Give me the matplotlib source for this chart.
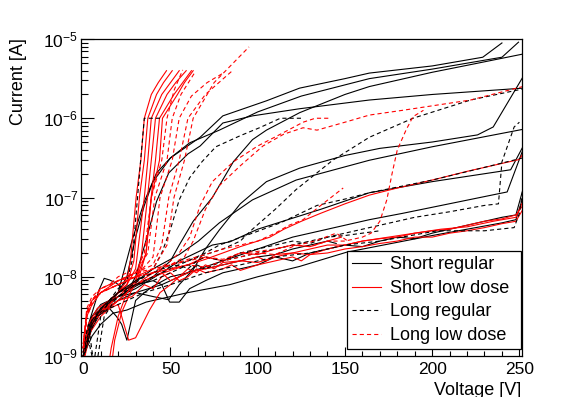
import matplotlib
matplotlib.use('Agg')
import matplotlib.pyplot as plt
from matplotlib.ticker import LogLocator, MultipleLocator, NullFormatter
from matplotlib.lines import Line2D

plt.rcParams['font.family'] = ['Liberation Sans', 'DejaVu Sans']
plt.rcParams['mathtext.fontset'] = 'custom'
plt.rcParams['mathtext.rm'] = 'Liberation Sans'
plt.rcParams['mathtext.it'] = 'Liberation Sans:italic'
plt.rcParams['lines.scale_dashes'] = False

# ---------------- data: (voltage [V], log10(current [A])) ----------------
short_regular = [
    ([0, 2, 5, 10, 15, 20, 25, 30, 35, 40, 50, 67, 80, 105, 124, 150, 164, 200, 229, 240],
     [-8.95, -8.7, -8.5, -8.4, -8.3, -8.2, -8.0, -7.5, -7.1, -6.8, -6.5, -6.24, -5.97, -5.78, -5.62, -5.5, -5.43, -5.34, -5.23, -5.05]),
    ([0, 2, 5, 10, 15, 20, 28, 35, 42, 50, 61, 78, 100, 125, 164, 200, 240, 249.5],
     [-9.0, -8.7, -8.55, -8.4, -8.3, -8.2, -7.54, -7.05, -6.69, -6.5, -6.31, -6.15, -5.92, -5.72, -5.5, -5.38, -5.23, -5.04]),
    ([0, 5, 10, 20, 30, 40, 50, 55, 63, 74, 86, 97, 105, 124, 150, 164, 200, 225, 252],
     [-8.95, -8.55, -8.42, -8.25, -8.12, -8.0, -7.8, -7.6, -7.3, -7.0, -6.55, -6.27, -6.15, -5.93, -5.7, -5.6, -5.42, -5.31, -5.19]),
    ([0, 5, 10, 20, 25, 30, 36, 42, 49, 60, 67, 80, 97, 124, 164, 200, 252],
     [-9.0, -8.6, -8.45, -8.3, -8.2, -8.0, -7.54, -7.05, -6.69, -6.45, -6.35, -6.06, -5.97, -5.88, -5.77, -5.7, -5.62]),
    ([0, 5, 10, 20, 30, 40, 49, 55, 63, 70, 78, 90, 105, 124, 150, 170, 200, 226, 235, 252],
     [-8.9, -8.5, -8.35, -8.25, -8.2, -8.25, -8.29, -8.1, -7.91, -7.65, -7.41, -7.08, -6.8, -6.63, -6.47, -6.38, -6.3, -6.21, -6.11, -5.48]),
    ([0, 5, 10, 20, 26, 40, 55, 66, 78, 97, 122, 164, 200, 252],
     [-9.0, -8.6, -8.4, -8.2, -8.13, -7.9, -7.72, -7.55, -7.32, -7.03, -6.78, -6.53, -6.36, -6.14]),
    ([0, 5, 10, 20, 30, 45, 55, 74, 84, 100, 136, 164, 200, 245, 252],
     [-9.0, -8.65, -8.45, -8.25, -8.15, -7.95, -7.8, -7.6, -7.56, -7.4, -7.15, -6.94, -6.8, -6.65, -6.36]),
    ([0, 5, 10, 20, 30, 45, 60, 80, 100, 120, 140, 164, 183, 243, 252],
     [-9.0, -8.6, -8.45, -8.3, -8.2, -8.1, -7.95, -7.8, -7.65, -7.5, -7.4, -7.28, -7.2, -6.93, -6.4]),
    ([0, 5, 10, 17, 25, 36, 60, 84, 100, 124, 151, 200, 240, 248, 252],
     [-9.0, -8.75, -8.6, -8.46, -8.42, -8.32, -8.2, -8.1, -8.0, -7.87, -7.69, -7.48, -7.32, -7.28, -7.0]),
    ([0, 3, 9, 12, 15, 19, 25, 30, 40, 45, 49.5, 55, 61, 70, 80, 90, 100, 110, 120, 130, 140, 150, 160, 170, 180, 190, 200, 210, 220, 230, 240, 248, 252],
     [-8.9, -8.6, -8.17, -8.02, -8.04, -8.08, -8.2, -8.1, -8.05, -8.1, -8.32, -8.32, -8.15, -8.05, -7.95, -7.9, -7.85, -7.75, -7.8, -7.7, -7.65, -7.6, -7.62, -7.55, -7.5, -7.52, -7.45, -7.4, -7.35, -7.3, -7.25, -7.22, -6.9]),
    ([0, 3, 8, 15, 19, 22, 25, 28, 30, 35, 40, 50, 60, 65, 70, 80, 90, 100, 110, 120, 130, 140, 145],
     [-9.0, -8.7, -8.45, -8.4, -8.5, -8.6, -8.8, -8.5, -8.3, -8.2, -8.12, -8.0, -7.95, -7.85, -7.9, -7.85, -7.8, -7.75, -7.72, -7.65, -7.6, -7.55, -7.58]),
]

short_low_dose = [
    ([0, 5, 10, 15, 20, 25, 27, 30.3, 33, 35, 39, 43, 47.7],
     [-9.0, -8.55, -8.4, -8.3, -8.2, -8.05, -7.8, -7.0, -6.53, -6.0, -5.7, -5.55, -5.4]),
    ([0, 5, 10, 15, 20, 25, 29, 32.2, 35, 37, 42, 46, 51],
     [-8.95, -8.6, -8.45, -8.3, -8.2, -8.1, -7.8, -7.0, -6.53, -6.0, -5.7, -5.55, -5.4]),
    ([0, 5, 10, 15, 20, 25, 30, 35, 37, 39, 45, 50, 55],
     [-9.05, -8.6, -8.4, -8.35, -8.2, -8.1, -7.9, -7.0, -6.53, -6.0, -5.7, -5.55, -5.4]),
    ([12, 16, 20, 25, 30, 33, 36.8, 39, 41.4, 48, 53, 59],
     [-9.5, -8.9, -8.5, -8.2, -8.05, -7.8, -7.0, -6.53, -6.0, -5.7, -5.55, -5.4]),
    ([14, 18, 22, 27, 32, 36, 38.9, 41.4, 43.7, 52, 57, 62],
     [-9.5, -8.8, -8.45, -8.2, -8.0, -7.7, -7.0, -6.53, -6.0, -5.7, -5.55, -5.4]),
    ([0, 5, 10, 15, 20, 25, 30, 36, 39, 43.7, 45.4, 54, 58, 63],
     [-9.0, -8.6, -8.45, -8.35, -8.25, -8.15, -8.05, -7.7, -7.0, -6.53, -6.0, -5.7, -5.55, -5.4]),
    ([0, 3, 8, 15, 20, 30, 40, 50, 60, 70, 80, 90, 100, 107, 115, 125, 136, 150, 164, 180, 200, 220, 240, 250, 252],
     [-9.0, -8.7, -8.45, -8.3, -8.2, -8.1, -8.0, -7.92, -7.85, -7.78, -7.7, -7.62, -7.55, -7.5, -7.4, -7.3, -7.2, -7.08, -6.97, -6.88, -6.78, -6.67, -6.57, -6.52, -6.45]),
    ([0, 3, 8, 15, 20, 30, 40, 45, 50, 55, 60, 65, 70, 75, 80, 90, 100, 105, 110, 120, 130, 140, 150, 160, 170, 180, 190, 200, 210, 220, 230, 240, 248, 252],
     [-8.95, -8.6, -8.4, -8.3, -8.2, -8.1, -8.0, -7.95, -8.05, -8.0, -7.9, -7.95, -7.85, -7.9, -7.82, -7.8, -7.75, -7.8, -7.72, -7.7, -7.65, -7.6, -7.6, -7.55, -7.52, -7.5, -7.45, -7.42, -7.4, -7.35, -7.3, -7.27, -7.22, -7.1]),
    ([0, 4, 10, 20, 28, 35, 40, 45, 50, 55, 60, 65, 70, 80, 85, 90, 100, 110, 120, 125, 130, 140, 150, 160, 170, 180, 190, 200, 210, 220, 230, 240, 248, 252],
     [-9.1, -8.7, -8.5, -8.3, -8.25, -8.1, -8.15, -8.0, -7.95, -8.05, -8.0, -7.9, -7.95, -7.9, -7.85, -7.92, -7.85, -7.8, -7.75, -7.8, -7.72, -7.7, -7.65, -7.62, -7.58, -7.55, -7.5, -7.5, -7.45, -7.42, -7.38, -7.33, -7.3, -7.15]),
    ([0, 3, 8, 15, 20, 26, 30, 38, 44, 50, 55, 60, 70, 80, 90, 100, 110, 120, 130, 140, 150, 160, 175, 190, 205, 220, 235, 248, 252],
     [-9.0, -8.7, -8.5, -8.4, -8.35, -8.8, -8.77, -8.42, -8.2, -8.1, -8.0, -7.95, -7.9, -7.85, -7.8, -7.82, -7.75, -7.7, -7.72, -7.65, -7.6, -7.55, -7.5, -7.45, -7.4, -7.37, -7.3, -7.25, -7.05]),
    ([0, 5, 10, 20, 25, 30, 40, 50, 60, 70, 80, 90, 100, 110, 120, 130, 140, 148],
     [-9.0, -8.6, -8.45, -8.3, -8.2, -8.1, -7.95, -7.9, -7.85, -7.75, -7.8, -7.7, -7.72, -7.65, -7.6, -7.62, -7.55, -7.5]),
]

long_regular = [
    ([0, 3, 6, 10, 15, 20, 25, 28, 31, 33, 35, 44],
     [-8.9, -8.6, -9.1, -8.5, -8.3, -8.15, -8.05, -7.8, -7.03, -6.5, -6.0, -6.0]),
    ([0, 5, 10, 20, 30, 40, 45, 50, 55, 61, 68, 76, 90, 101, 113, 126],
     [-9.05, -8.6, -8.4, -8.2, -8.05, -7.9, -7.7, -7.4, -7.03, -6.75, -6.55, -6.36, -6.22, -6.12, -6.0, -6.0]),
    ([0, 5, 10, 20, 30, 40, 50, 60, 70, 80, 90, 97, 110, 122, 143, 164, 189, 222, 252],
     [-9.0, -8.55, -8.4, -8.2, -8.05, -7.95, -7.85, -7.8, -7.72, -7.65, -7.55, -7.4, -7.15, -6.9, -6.53, -6.24, -6.0, -5.77, -5.63]),
    ([0, 5, 10, 20, 30, 40, 50, 60, 70, 78, 97, 113, 134, 150, 164, 200, 230, 252],
     [-9.0, -8.6, -8.4, -8.25, -8.1, -8.0, -7.9, -7.8, -7.7, -7.6, -7.45, -7.32, -7.1, -7.02, -6.94, -6.78, -6.62, -6.5]),
    ([0, 5, 10, 20, 30, 40, 50, 60, 70, 80, 90, 100, 110, 120, 130, 140, 150, 170, 190, 210, 230, 238, 240, 247, 250],
     [-8.95, -8.55, -8.45, -8.2, -8.1, -8.05, -7.95, -7.85, -7.9, -7.8, -7.75, -7.7, -7.65, -7.6, -7.55, -7.5, -7.45, -7.35, -7.25, -7.18, -7.1, -7.08, -6.55, -6.11, -6.05]),
    ([0, 4, 8, 15, 25, 35, 50, 70, 90, 110, 130, 150, 170, 203, 230, 247, 250, 252],
     [-9.0, -8.7, -8.5, -8.4, -8.3, -8.2, -8.1, -7.95, -7.85, -7.75, -7.7, -7.6, -7.55, -7.42, -7.42, -7.38, -7.2, -6.9]),
    ([0, 3, 7, 12, 18, 25, 35, 45, 55, 60, 65, 70, 80, 90, 100, 110, 120, 130, 140, 150, 160, 170],
     [-9.0, -8.8, -9.2, -8.5, -8.3, -8.15, -8.0, -7.9, -7.85, -7.9, -7.8, -7.75, -7.8, -7.7, -7.65, -7.6, -7.55, -7.58, -7.5, -7.48, -7.45, -7.42]),
]

long_low_dose = [
    ([0, 2, 5, 10, 20, 30, 35, 39, 45, 48, 52, 57],
     [-8.9, -8.5, -8.3, -8.15, -8.05, -7.95, -7.7, -7.0, -6.53, -6.0, -5.65, -5.39]),
    ([0, 2, 5, 10, 20, 30, 37, 41, 48, 51, 56, 64],
     [-8.85, -8.45, -8.3, -8.2, -8.05, -7.95, -7.7, -7.0, -6.53, -6.0, -5.7, -5.42]),
    ([0, 2, 5, 10, 20, 30, 40, 44, 51, 55, 62, 71, 81],
     [-8.9, -8.5, -8.35, -8.2, -8.1, -8.0, -7.75, -7.0, -6.53, -6.0, -5.72, -5.55, -5.42]),
    ([0, 2, 5, 10, 20, 30, 40, 45, 49, 55, 60, 70, 86],
     [-8.9, -8.45, -8.3, -8.15, -8.05, -7.95, -7.85, -7.6, -7.0, -6.53, -6.0, -5.7, -5.39]),
    ([0, 2, 5, 10, 20, 30, 40, 48, 52, 58, 63, 75, 95],
     [-8.85, -8.5, -8.35, -8.2, -8.1, -8.0, -7.9, -7.6, -7.0, -6.53, -6.0, -5.55, -5.1]),
    ([0, 2, 5, 10, 20, 30, 40, 50, 55, 61, 67, 74, 86, 100, 114, 126, 133, 141],
     [-8.9, -8.5, -8.3, -8.15, -8.05, -8.0, -7.95, -7.8, -7.7, -7.5, -7.1, -6.8, -6.55, -6.35, -6.19, -6.05, -6.0, -6.0]),
    ([0, 2, 5, 10, 20, 30, 40, 50, 58, 63, 70, 78, 90, 103, 115, 126, 134, 150, 164, 183, 222, 252],
     [-8.9, -8.45, -8.3, -8.2, -8.1, -8.0, -7.95, -7.85, -7.75, -7.55, -7.15, -6.85, -6.6, -6.35, -6.2, -6.12, -6.15, -6.05, -5.96, -5.9, -5.77, -5.6]),
    ([0, 2, 5, 10, 20, 30, 40, 50, 60, 70, 80, 90, 100, 110, 120, 130, 140, 150, 160, 165, 170, 174, 177, 180, 185, 189, 195],
     [-8.9, -8.45, -8.3, -8.2, -8.05, -7.95, -7.9, -7.85, -7.8, -7.75, -7.78, -7.7, -7.68, -7.65, -7.6, -7.62, -7.55, -7.55, -7.5, -7.45, -7.3, -7.03, -6.7, -6.4, -6.15, -5.98, -5.9]),
    ([0, 2, 5, 10, 20, 30, 40, 50, 60, 70, 80, 90, 100, 110, 118, 126, 135, 142, 149],
     [-8.9, -8.5, -8.35, -8.2, -8.1, -8.0, -7.9, -7.85, -7.78, -7.72, -7.65, -7.6, -7.55, -7.45, -7.35, -7.28, -7.12, -7.0, -6.88]),
    ([0, 2, 5, 10, 15, 20, 25, 30, 40, 50, 60, 70, 80, 90, 100, 110, 120, 134, 145, 151],
     [-8.85, -8.4, -8.25, -8.15, -8.1, -8.0, -7.95, -8.0, -7.95, -7.9, -7.85, -7.88, -7.8, -7.75, -7.7, -7.72, -7.62, -7.54, -7.45, -7.54]),
]

legend_labels = ['Short regular', 'Short low dose', 'Long regular', 'Long low dose']

# ---------------- figure ----------------
fig = plt.figure(figsize=(5.81, 3.97), dpi=100)
ax = fig.add_axes([81 / 581, 41 / 397, 441 / 581, 317 / 397])

dash = (0, (3.0, 2.2))
styles = [
    (short_regular, 'black', '-'),
    (short_low_dose, 'red', '-'),
    (long_regular, 'black', dash),
    (long_low_dose, 'red', dash),
]
for curves, color, ls in styles:
    for v, logi in curves:
        ax.plot(v, [10.0 ** x for x in logi], color=color, ls=ls, lw=0.8)

ax.set_yscale('log')
ax.set_xlim(-1.3, 251.5)
ax.set_ylim(1e-9, 1e-5)

ax.xaxis.set_major_locator(MultipleLocator(50))
ax.xaxis.set_minor_locator(MultipleLocator(10))
ax.yaxis.set_major_locator(LogLocator(base=10, numticks=10))
ax.yaxis.set_minor_locator(LogLocator(base=10, subs=range(2, 10), numticks=20))
ax.yaxis.set_minor_formatter(NullFormatter())

ax.tick_params(which='both', direction='in', top=False, right=False, labelsize=12.5)
ax.tick_params(axis='x', which='major', length=6.8, width=0.8, pad=4)
ax.tick_params(axis='x', which='minor', length=3.4, width=0.8)
ax.tick_params(axis='y', which='major', length=9.5, width=0.8, pad=2)
ax.tick_params(axis='y', which='minor', length=4.75, width=0.8)
for s in ax.spines.values():
    s.set_linewidth(0.9)

fig.text(18.5 / 581, 1 - 38 / 397, 'Current [A]', rotation=90, ha='center', va='top', fontsize=13)
fig.text(521 / 581, 1 - 382 / 397, 'Voltage [V]', ha='right', va='top', fontsize=13)

handles = [
    Line2D([], [], color='black', ls='-', lw=0.8),
    Line2D([], [], color='red', ls='-', lw=0.8),
    Line2D([], [], color='black', ls=dash, lw=0.8),
    Line2D([], [], color='red', ls=dash, lw=0.8),
]
leg = ax.legend(handles, legend_labels, loc='upper left',
                bbox_to_anchor=((347 - 81) / 441, (356 - 348) / 317, (521 - 347) / 441, (348 - 251) / 317),
                mode='expand', borderaxespad=0, fancybox=False, framealpha=1,
                edgecolor='black', fontsize=13, handlelength=1.6, handletextpad=0.5,
                labelspacing=0.36, borderpad=0.3)
leg.get_frame().set_linewidth(0.9)

fig.savefig('out.png', dpi=100)
